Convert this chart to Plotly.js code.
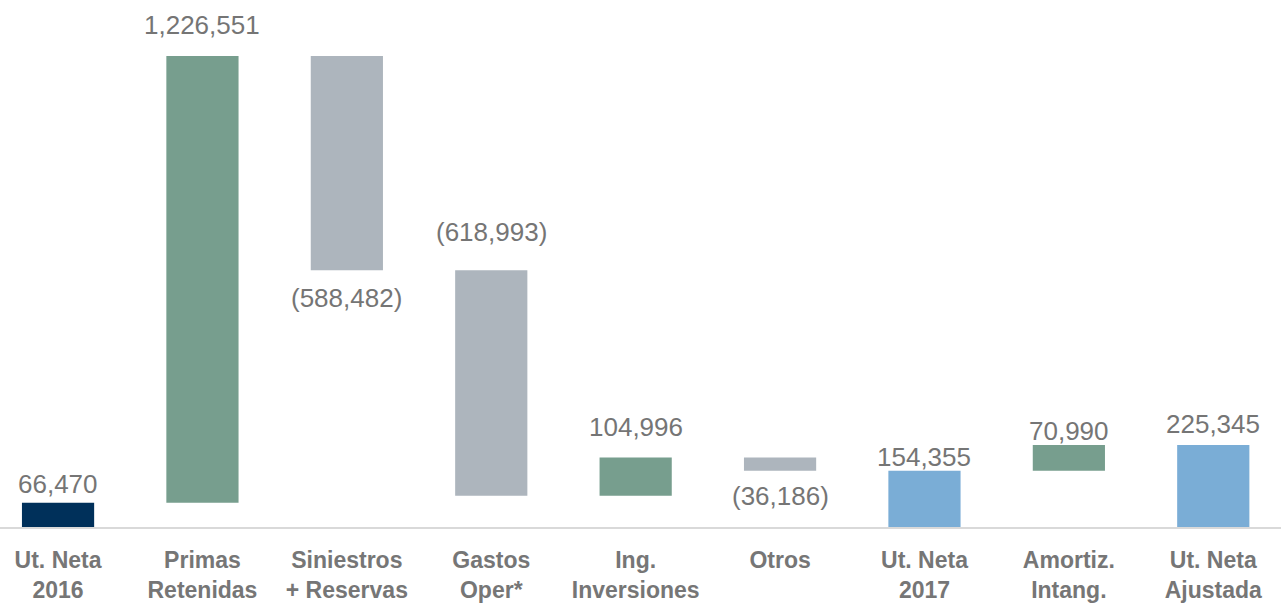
<!DOCTYPE html>
<html>
<head>
<meta charset="utf-8">
<script src="https://cdn.plot.ly/plotly-3.0.1.min.js"></script>
<style>html,body{margin:0;padding:0;background:#fff;}#chart{width:1281px;height:603px;}</style>
</head>
<body>
<div id="chart"></div>
<script>
// Data
var categories = ["Ut. Neta<br>2016", "Primas<br>Retenidas", "Siniestros<br>+ Reservas", "Gastos<br>Oper*", "Ing.<br>Inversiones", "Otros", "Ut. Neta<br>2017", "Amortiz.<br>Intang.", "Ut. Neta<br>Ajustada"];
var values = [66470, 1226551, -588482, -618993, 104996, -36186, 154355, 70990, 225345];
var measures = ["absolute", "relative", "relative", "relative", "relative", "relative", "total", "relative", "total"];

// Styling config (not data)
var barColors = ["#00305a", "#779e8e", "#adb5bd", "#adb5bd", "#779e8e", "#adb5bd", "#7aadd6", "#779e8e", "#7aadd6"];
var labelSide = ["top", "top", "bottom", "top", "top", "bottom", "top", "top", "top"];
var labelShift = [19, 31, -28, 38, 31, -25, 14, 14, 21];

// Compute waterfall bases
var bases = [], heights = [], running = 0;
for (var i = 0; i < values.length; i++) {
  if (measures[i] === "absolute" || measures[i] === "total") {
    bases.push(0); heights.push(values[i]); running = values[i];
  } else {
    if (values[i] >= 0) { bases.push(running); heights.push(values[i]); }
    else { bases.push(running + values[i]); heights.push(-values[i]); }
    running += values[i];
  }
}
function fmt(v) {
  var s = Math.abs(v).toString().replace(/\B(?=(\d{3})+(?!\d))/g, ",");
  return v < 0 ? "(" + s + ")" : s;
}
var xs = categories.map(function(c, i){ return i; });
var annotations = values.map(function(v, i) {
  var top = bases[i] + heights[i];
  return {
    x: i, y: labelSide[i] === "top" ? top : bases[i],
    xref: "x", yref: "y", text: fmt(v), showarrow: false,
    yanchor: "middle", xanchor: "center", yshift: labelShift[i],
    font: {family: "Liberation Sans, Arial, sans-serif", size: 26, color: "#757575"}
  };
});

var trace = {
  type: "bar", x: xs, y: heights, base: bases,
  marker: {color: barColors}, width: 0.5, hoverinfo: "none"
};
var layout = {
  width: 1281, height: 603,
  margin: {l: 0, r: 0, t: 0, b: 76, pad: 0},
  paper_bgcolor: "#ffffff", plot_bgcolor: "#ffffff",
  showlegend: false,
  xaxis: {
    range: [-0.402, 8.469], tickmode: "array", tickvals: xs, ticktext: categories,
    showgrid: false, zeroline: false, showline: true, linecolor: "#d9d9d9", linewidth: 2,
    ticks: "", ticklabelstandoff: 11,
    tickfont: {family: "Liberation Sans, Arial, sans-serif", size: 23, color: "#767676", weight: "bold"},
    fixedrange: true
  },
  yaxis: {range: [0, 1446770], visible: false, showgrid: false, zeroline: false, fixedrange: true},
  annotations: annotations
};
Plotly.newPlot("chart", [trace], layout, {displayModeBar: false, staticPlot: true});
</script>
</body>
</html>
